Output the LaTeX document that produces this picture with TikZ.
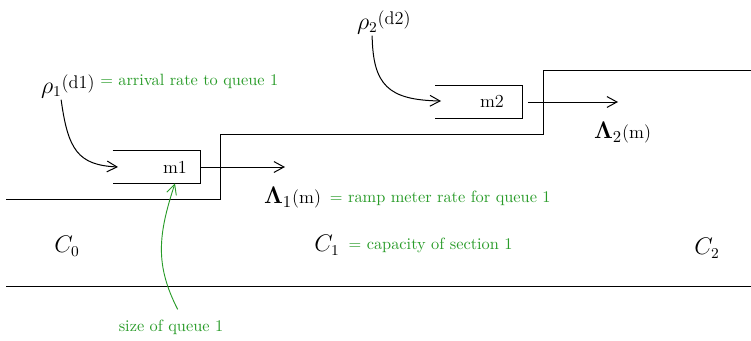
\documentclass[tikz,border=0pt]{standalone}
\usepackage{amsmath}
\usepackage{amssymb}
\usetikzlibrary{arrows.meta, positioning}
\definecolor{notegreen}{RGB}{40,155,40}

\begin{document}
\begin{tikzpicture}[
    x=0.6pt, y=-0.6pt,
    road/.style={line width=0.6pt},
    flow/.style={line width=0.6pt, -{Straight Barb[length=6pt,width=6.5pt]}},
    note/.style={text=notegreen, font=\fontsize{9.8}{12}\selectfont, inner sep=1pt},
    notearrow/.style={notegreen, line width=0.55pt, -{Straight Barb[length=6pt,width=6pt]}},
    sym/.style={font=\fontsize{13.5}{15}\selectfont, inner sep=1pt},
    qlabel/.style={font=\fontsize{11}{13}\selectfont, inner sep=1pt},
    queuebox/.style={rectangle, minimum width=52.2pt, minimum height=19.2pt, inner sep=0pt}
]
    \useasboundingbox (0,0) rectangle (751,340);

    % road edges
    \draw [road] (6,286) -- (751,286);
    \draw [road] (6,199) -- (220,199) -- (220,134) -- (543,134) -- (543,70) -- (751,70);

    % ramp queues (open on the left)
    \node (q1) [queuebox] at (156.5,167) {};
    \node (q2) [queuebox] at (479,102) {};
    \draw [road] (q1.north west) -- (q1.north east) -- (q1.south east) -- (q1.south west);
    \draw [road] (q2.north west) -- (q2.north east) -- (q2.south east) -- (q2.south west);
    \node (m1) [qlabel] at (175,167) {m1};
    \node (m2) [qlabel] at (492,101) {m2};

    % arrival rates
    \node (rho1) [sym, anchor=west] at (39,86) {$\rho_1$\raisebox{3pt}{\fontsize{11}{13}\selectfont(d1)}};
    \node (rho1note) [note, right=1pt of rho1.east, yshift=3pt] {= arrival rate to queue 1};
    \node (rho2) [sym, anchor=west] at (355,22) {$\rho_2$\raisebox{3pt}{\fontsize{11}{13}\selectfont(d2)}};
    \coordinate (in1) at (118,167);
    \coordinate (in2) at (441,101);
    \draw [flow] ([xshift=-4pt]rho1.south) .. controls (68,150) and (78,165) .. (in1);
    \draw [flow] ([xshift=-7pt]rho2.south) .. controls (373,85) and (388,100) .. (in2);

    % metered flows
    \coordinate (out1) at (285,167);
    \coordinate (out2) at (618,102);
    \draw [flow] (q1.east) -- (out1);
    \draw [flow] ([xshift=3pt]q2.east) -- (out2);
    \node (lam1) [sym, anchor=west] at (262,198) {\Large$\boldsymbol{\Lambda}_1$\fontsize{11}{13}\selectfont(m)};
    \node (lam1note) [note, right=3pt of lam1] {= ramp meter rate for queue 1};
    \node (lam2) [sym, anchor=west] at (592,133) {\Large$\boldsymbol{\Lambda}_2$\fontsize{11}{13}\selectfont(m)};

    % section capacities
    \node (c0) [sym] at (67,246) {$C_0$};
    \node (c1) [sym] at (327,245) {$C_1$};
    \node (c1note) [note, right=3pt of c1] {= capacity of section 1};
    \node (c2) [sym] at (707,248) {$C_2$};

    % queue size
    \node (qsize) [note] at (171,327) {size of queue 1};
    \draw [notearrow] ([xshift=4pt,yshift=5pt]qsize.north) .. controls (155,265) and (158,235) .. (q1.south -| m1);
\end{tikzpicture}
\end{document}
